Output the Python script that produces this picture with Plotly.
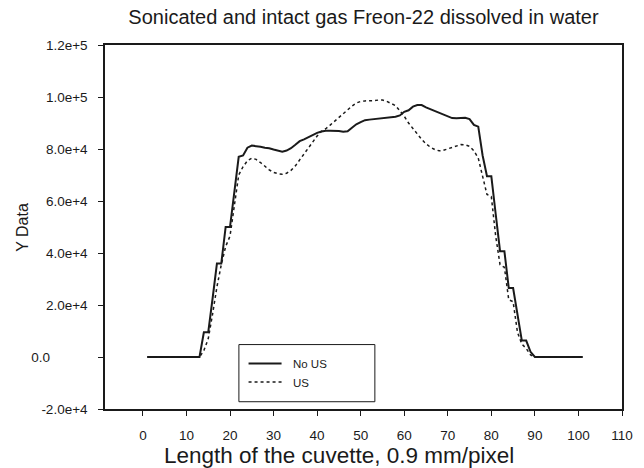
import plotly.graph_objects as go

# pixel index along the cuvette
x_pixel = list(range(1, 102))

no_us = [0] * 13 + [
    9500, 9500, 22500, 36000, 36000, 50000, 50000, 63500, 77000, 77500,
    80500, 81300, 81200, 80900, 80500, 80300, 79800, 79300, 79000, 79400,
    80300, 81600, 83000, 83700, 84500, 85600, 86200, 86700, 87000, 87000,
    87000, 86900, 86600, 86800, 88200, 89500, 90300, 91100, 91300, 91500,
    91800, 92000, 92100, 92300, 92400, 92900, 94300, 94900, 96300, 96900,
    96900, 96000, 95300, 94700, 94100, 93400, 92600, 91900, 91800, 91900,
    92000, 91500, 89300, 88600, 77500, 69500, 69500, 55000, 40700, 40700,
    26500, 26500, 16000, 6300, 6300, 2000,
] + [0] * 12

us = [0] * 13 + [
    2500, 7000, 16500, 27000, 35500, 42500, 46500, 59000, 70000, 73200,
    75500, 76500, 76000, 74800, 73300, 72000, 71000, 70500, 70300, 70700,
    71800, 73500, 75800, 78200, 80200, 82500, 85000, 86800, 87800, 89200,
    90700, 92200, 93500, 94900, 96500, 97700, 98300, 98500, 98500, 98600,
    98800, 98800, 98300, 97500, 96700, 94700, 92600, 90000, 87800, 85700,
    83700, 82000, 80700, 79800, 79300, 79500, 80000, 80700, 81200, 81700,
    81600, 81000, 79300, 76500, 69500, 62500, 61700, 46500, 35500, 34500,
    22000, 21300, 9500, 5000, 3300, 800,
] + [0] * 12

x_ticks = list(range(0, 111, 10))
y_ticks = [-20000, 0, 20000, 40000, 60000, 80000, 100000, 120000]
y_ticktext = ['-2.0e+4', '0.0' + '\u00a0' * 10, '2.0e+4', '4.0e+4',
              '6.0e+4', '8.0e+4', '1.0e+5', '1.2e+5']

INK = '#1a1a1a'
FONT = 'Liberation Sans, Arial, sans-serif'

fig = go.Figure()
fig.add_trace(go.Scatter(
    x=x_pixel, y=no_us, name='\u00a0\u00a0No US', mode='lines',
    line=dict(color=INK, width=2), legend='legend',
))
fig.add_trace(go.Scatter(
    x=x_pixel, y=us, name='\u00a0\u00a0US', mode='lines',
    line=dict(color=INK, width=1.5, dash='dot'), legend='legend2',
))

# legend frame
fig.add_shape(type='rect', xref='paper', yref='paper',
              x0=0.259, x1=0.522, y0=0.02, y1=0.177,
              line=dict(color=INK, width=1), fillcolor='white', layer='below')

fig.add_annotation(text='Length of the cuvette, 0.9 mm/pixel',
                   xref='paper', yref='paper', x=0.452, y=-0.128,
                   xanchor='center', yanchor='middle', showarrow=False,
                   font=dict(size=22.5, color=INK, family=FONT))
fig.add_annotation(text='Y Data', xref='paper', yref='paper',
                   x=-0.161, y=0.5, textangle=-90, showarrow=False,
                   xanchor='center', yanchor='middle',
                   font=dict(size=16, color=INK, family=FONT))

legend_style = dict(bgcolor='rgba(0,0,0,0)', borderwidth=0,
                    font=dict(size=11.5, color=INK, family=FONT),
                    xanchor='left', yanchor='middle', itemwidth=33)

fig.update_layout(
    width=644, height=468,
    margin=dict(l=105, r=22, t=45, b=59),
    paper_bgcolor='white', plot_bgcolor='white',
    font=dict(family=FONT, color=INK),
    title=dict(text='Sonicated and intact gas Freon-22 dissolved in water',
               x=0.5, xref='paper', xanchor='center',
               y=1 - 17 / 468, yanchor='middle',
               font=dict(size=20, color=INK, family=FONT)),
    showlegend=True,
    legend=dict(x=0.268, y=0.125, **legend_style),
    legend2=dict(x=0.268, y=0.074, **legend_style),
    xaxis=dict(range=[-8.7, 110], tickvals=x_ticks, ticks='outside',
               ticklen=5, tickwidth=1.2, tickcolor=INK,
               showline=True, linecolor=INK, linewidth=1.5, mirror=True,
               showgrid=False, zeroline=False, ticklabelstandoff=8,
               tickfont=dict(size=13.5, color=INK, family=FONT)),
    yaxis=dict(range=[-20000, 120000], tickvals=y_ticks, ticktext=y_ticktext,
               ticks='outside', ticklen=5, tickwidth=1.2, tickcolor=INK,
               showline=True, linecolor=INK, linewidth=1.5, mirror=True,
               showgrid=False, zeroline=False, ticklabelstandoff=8,
               tickfont=dict(size=13.5, color=INK, family=FONT)),
)

# drop the browser's default 8px body margin so the figure sits at 0,0
fig.write_html('out.html', config={'displayModeBar': False},
               post_script="document.body.style.margin='0';")
